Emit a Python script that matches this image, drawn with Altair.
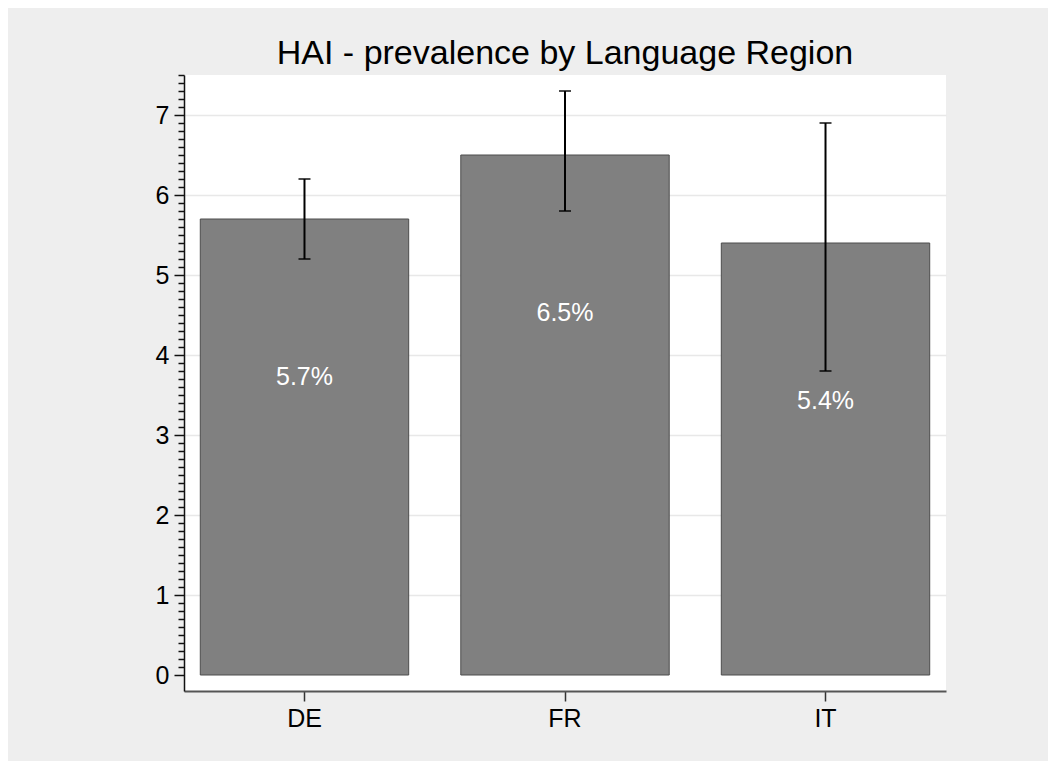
import altair as alt
import pandas as pd

regions = ["DE", "FR", "IT"]
prevalence = [5.7, 6.5, 5.4]
ci_low = [5.2, 5.8, 3.8]
ci_high = [6.2, 7.3, 6.9]
labels = ["5.7%", "6.5%", "5.4%"]
y_ticks = [round(i / 10, 1) for i in range(0, 76)]

df = pd.DataFrame({
    "region": regions,
    "value": prevalence,
    "lo": ci_low,
    "hi": ci_high,
    "label": labels,
})

FONT = "Liberation Sans"
int_test = "abs(datum.value - round(datum.value)) < 0.001"

x_axis = alt.Axis(
    title=None, labelAngle=0, labelFontSize=25, labelFont=FONT,
    labelColor="black", labelPadding=5, tickSize=10, tickColor="#333333",
    tickWidth=1.5, domainColor="#555555", domainWidth=2,
)
x_scale = alt.Scale(paddingInner=0.2, paddingOuter=0.0625)

y_scale = alt.Scale(domain=[-0.2, 7.5], nice=False, zero=False)

y_axis = alt.Axis(
    title=None,
    values=y_ticks,
    labelExpr=f"{int_test} ? format(datum.value, 'd') : ''",
    labelOverlap=False,
    labelFontSize=25,
    labelFont=FONT,
    labelColor="black",
    labelPadding=5,
    tickSize={"condition": {"test": int_test, "value": 10}, "value": 6},
    tickColor="#111111",
    tickWidth=1.5,
    domainColor="#111111",
    domainWidth=1.5,
    grid=True,
    gridColor="#e8e8e8",
    gridWidth=1.5,
    gridOpacity={"condition": {"test": f"datum.value >= 1 && {int_test}", "value": 1}, "value": 0},
)

base = alt.Chart(df)
xo = alt.X("region:N", sort=regions, scale=x_scale, axis=x_axis)

bars = base.mark_bar(color="#808080", stroke="#4d4d4d", strokeWidth=1).encode(
    x=xo,
    y=alt.Y("value:Q", scale=y_scale, axis=y_axis),
)

err = base.mark_rule(color="black", strokeWidth=2).encode(
    x=xo,
    y=alt.Y("lo:Q", scale=y_scale, axis=y_axis),
    y2="hi:Q",
)

cap_lo = base.mark_tick(color="black", thickness=2, size=12, orient="horizontal").encode(
    x=xo,
    y=alt.Y("lo:Q", scale=y_scale, axis=y_axis),
)
cap_hi = base.mark_tick(color="black", thickness=2, size=12, orient="horizontal").encode(
    x=xo,
    y=alt.Y("hi:Q", scale=y_scale, axis=y_axis),
)

text = base.mark_text(color="white", fontSize=25, font=FONT, dy=158, baseline="middle").encode(
    x=xo,
    y=alt.Y("value:Q", scale=y_scale, axis=y_axis),
    text="label:N",
)

chart = alt.layer(bars, err, cap_lo, cap_hi, text).properties(
    width=762,
    height=616,
    background="#eeeeee",
    padding={"left": 176, "top": 67, "right": 102, "bottom": 70},
    autosize=alt.AutoSizeParams(type="none"),
    title=alt.TitleParams(
        "HAI - prevalence by Language Region",
        fontSize=34, font=FONT, fontWeight="normal", color="black",
        anchor="middle", baseline="alphabetic", offset=18, dy=53,
    ),
).configure_view(fill="white", stroke=None)

chart.save("out.html", embed_options={"renderer": "svg", "actions": False})
